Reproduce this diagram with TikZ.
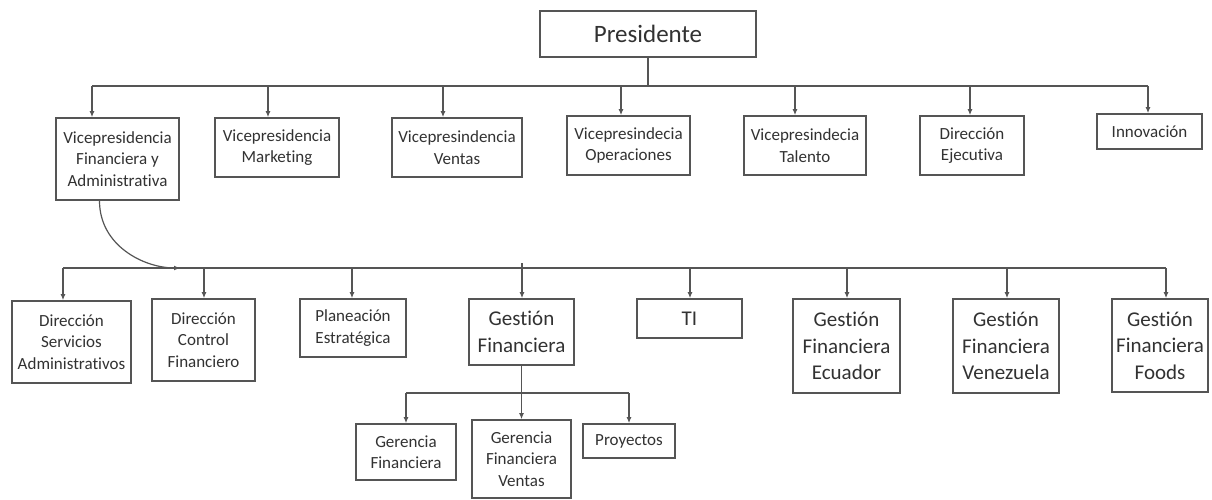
\documentclass[tikz,border=0pt]{standalone}
\usepackage{fontspec}
\setmainfont{Carlito}[Ligatures=NoCommon]
\usepackage{xcolor}
\usepackage{tikz}
\usetikzlibrary{arrows.meta}
\newcommand{\letrachica}{\fontsize{17}{21.5}\selectfont}
\newcommand{\letragrande}{\fontsize{21}{26.5}\selectfont}
\newcommand{\letrapres}{\fontsize{25}{28}\selectfont}
\definecolor{gristrazo}{RGB}{85,85,85}
\definecolor{gristexto}{RGB}{50,50,50}
\tikzset{caja/.style={draw=gristrazo, line width=1.6pt, fill=white, align=center, inner sep=1pt, text=gristexto, font=\letrachica}}
\tikzset{cajagrande/.style={caja, font=\letragrande}}
\tikzset{conector/.style={draw=gristrazo, line width=1.2pt}}
\tikzset{flecha/.style={conector, -{Latex[length=6pt,width=5pt]}}}

\begin{document}
\begin{tikzpicture}[x=1pt,y=-1pt]
\fill[white] (0,0) rectangle (1212,500);
\useasboundingbox (0,0) rectangle (1212,500);

\node[caja, font=\letrapres, minimum width=216pt, minimum height=46pt] (pres) at (648,34) {Presidente};

\node[caja, minimum width=123pt, minimum height=82pt] (vpfa) at (117.5,159) {Vicepresidencia\\Financiera y\\Administrativa};
\node[caja, minimum width=124pt, minimum height=59pt] (vpmk) at (277,147.5) {Vicepresidencia\\Marketing};
\node[caja, minimum width=130pt, minimum height=59pt] (vpvt) at (457,147.5) {Vicepresindencia\\Ventas};
\node[caja, minimum width=123pt, minimum height=59pt] (vpop) at (628.5,145.5) {Vicepresindecia\\Operaciones};
\node[caja, minimum width=122pt, minimum height=59pt] (vptl) at (805,145.5) {Vicepresindecia\\Talento};
\node[caja, minimum width=104pt, minimum height=59pt] (direj) at (972,145.5) {Dirección\\Ejecutiva};
\node[caja, minimum width=105pt, minimum height=35pt] (innov) at (1149.5,131.5) {Innovación};

\node[caja, minimum width=119pt, minimum height=82pt] (dsa) at (71.5,342) {Dirección\\Servicios\\Administrativos};
\node[caja, minimum width=103pt, minimum height=82pt] (dcf) at (203.5,340) {Dirección\\Control\\Financiero};
\node[caja, minimum width=106pt, minimum height=58pt] (plan) at (353,328) {Planeación\\Estratégica};
\node[cajagrande, minimum width=105pt, minimum height=66pt] (gf) at (521.5,332) {Gestión\\Financiera};
\node[cajagrande, minimum width=105pt, minimum height=39pt] (ti) at (689.5,318.5) {TI};
\node[cajagrande, minimum width=107pt, minimum height=94pt] (gfec) at (846.5,346) {Gestión\\Financiera\\Ecuador};
\node[cajagrande, minimum width=106pt, minimum height=94pt] (gfve) at (1006,346) {Gestión\\Financiera\\Venezuela};
\node[cajagrande, minimum width=96pt, minimum height=93pt] (gffo) at (1160,345.5) {Gestión\\Financiera\\Foods};

\node[caja, minimum width=100pt, minimum height=56pt] (gerf) at (406,452) {Gerencia\\Financiera};
\node[caja, minimum width=99pt, minimum height=78pt] (gerv) at (521.5,459) {Gerencia\\Financiera\\Ventas};
\node[caja, minimum width=92pt, minimum height=34pt] (proy) at (629,441) {Proyectos};

\coordinate (b1) at (92,86);
\coordinate (b2) at (268,86);
\coordinate (b3) at (443,86);
\coordinate (b4) at (621,86);
\coordinate (b5) at (795,86);
\coordinate (b6) at (970,86);
\coordinate (b7) at (1148,86);
\draw[conector] (pres.south) -- (pres.south |- b1);
\draw[conector] (b1) -- (b7);
\draw[flecha] (b1) -- (b1 |- vpfa.north);
\draw[flecha] (b2) -- (b2 |- vpmk.north);
\draw[flecha] (b3) -- (b3 |- vpvt.north);
\draw[flecha] (b4) -- (b4 |- vpop.north);
\draw[flecha] (b5) -- (b5 |- vptl.north);
\draw[flecha] (b6) -- (b6 |- direj.north);
\draw[flecha] (b7) -- (b7 |- innov.north);

\coordinate (k0) at (180,268);
\coordinate (k1) at (63,268);
\coordinate (k2) at (204,268);
\coordinate (k3) at (352,268);
\coordinate (k4) at (522,268);
\coordinate (k5) at (690,268);
\coordinate (k6) at (847,268);
\coordinate (k7) at (1007,268);
\coordinate (k8) at (1166,268);
\draw[flecha] ([xshift=-18pt]vpfa.south) .. controls ([xshift=-18pt,yshift=-45pt]vpfa.south) and ([xshift=-36pt]k0) .. (k0);
\draw[conector] (k1) -- (k8);
\draw[flecha] (k1) -- (k1 |- dsa.north);
\draw[flecha] (k2) -- (k2 |- dcf.north);
\draw[flecha] (k3) -- (k3 |- plan.north);
\draw[flecha] ([yshift=5pt]k4) -- (k4 |- gf.north);
\draw[flecha] (k5) -- (k5 |- ti.north);
\draw[flecha] (k6) -- (k6 |- gfec.north);
\draw[flecha] (k7) -- (k7 |- gfve.north);
\draw[flecha] (k8) -- (k8 |- gffo.north);

\coordinate (g1) at (406,393);
\coordinate (g2) at (629,393);
\draw[flecha] (gf.south) -- (gerv.north);
\draw[conector] (g1) -- (g2);
\draw[flecha] (g1) -- (gerf.north);
\draw[flecha] (g2) -- (proy.north);
\end{tikzpicture}
\end{document}
